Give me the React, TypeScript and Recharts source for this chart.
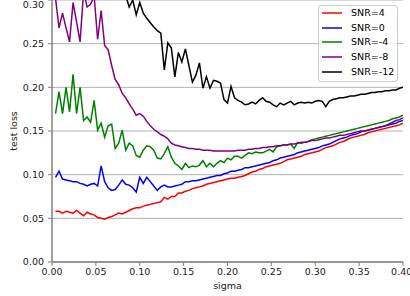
import React from 'react';
import { LineChart, Line, XAxis, YAxis, CartesianGrid, Legend } from 'recharts';

const sigma = [
  0.004, 0.008, 0.012, 0.016, 0.02, 0.024, 0.028, 0.032, 0.036, 0.04,
  0.044, 0.048, 0.052, 0.056, 0.06, 0.064, 0.068, 0.072, 0.076, 0.08,
  0.084, 0.088, 0.092, 0.096, 0.1, 0.104, 0.108, 0.112, 0.116, 0.12,
  0.124, 0.128, 0.132, 0.136, 0.14, 0.144, 0.148, 0.152, 0.156, 0.16,
  0.164, 0.168, 0.172, 0.176, 0.18, 0.184, 0.188, 0.192, 0.196, 0.2,
  0.204, 0.208, 0.212, 0.216, 0.22, 0.224, 0.228, 0.232, 0.236, 0.24,
  0.244, 0.248, 0.252, 0.256, 0.26, 0.264, 0.268, 0.272, 0.276, 0.28,
  0.284, 0.288, 0.292, 0.296, 0.3, 0.304, 0.308, 0.312, 0.316, 0.32,
  0.324, 0.328, 0.332, 0.336, 0.34, 0.344, 0.348, 0.352, 0.356, 0.36,
  0.364, 0.368, 0.372, 0.376, 0.38, 0.384, 0.388, 0.392, 0.396, 0.4,
];

const snr4 = [
  0.058, 0.058, 0.056, 0.058, 0.057, 0.056, 0.059, 0.056, 0.053, 0.057,
  0.055, 0.054, 0.051, 0.050, 0.049, 0.051, 0.052, 0.054, 0.056, 0.055,
  0.057, 0.059, 0.061, 0.062, 0.062, 0.064, 0.065, 0.066, 0.067, 0.068,
  0.069, 0.074, 0.072, 0.075, 0.075, 0.079, 0.079, 0.081, 0.082, 0.084,
  0.085, 0.086, 0.087, 0.089, 0.090, 0.091, 0.092, 0.093, 0.094, 0.095,
  0.096, 0.096, 0.097, 0.098, 0.099, 0.101, 0.103, 0.104, 0.106, 0.107,
  0.109, 0.110, 0.111, 0.112, 0.113, 0.115, 0.117, 0.118, 0.119, 0.120,
  0.121, 0.123, 0.124, 0.125, 0.126, 0.127, 0.129, 0.131, 0.132, 0.133,
  0.135, 0.137, 0.138, 0.140, 0.142, 0.143, 0.144, 0.145, 0.146, 0.148,
  0.149, 0.150, 0.151, 0.152, 0.153, 0.154, 0.155, 0.156, 0.157, 0.159,
];

const snr0 = [
  0.097, 0.104, 0.095, 0.094, 0.093, 0.092, 0.092, 0.090, 0.089, 0.087,
  0.089, 0.090, 0.087, 0.110, 0.092, 0.085, 0.082, 0.083, 0.088, 0.094,
  0.089, 0.088, 0.085, 0.080, 0.097, 0.090, 0.097, 0.092, 0.087, 0.082,
  0.086, 0.088, 0.086, 0.086, 0.087, 0.088, 0.089, 0.092, 0.092, 0.093,
  0.093, 0.094, 0.095, 0.096, 0.097, 0.098, 0.099, 0.099, 0.101, 0.102,
  0.104, 0.104, 0.105, 0.106, 0.108, 0.108, 0.109, 0.110, 0.111, 0.112,
  0.113, 0.114, 0.116, 0.117, 0.119, 0.120, 0.121, 0.122, 0.123, 0.125,
  0.126, 0.127, 0.128, 0.129, 0.130, 0.131, 0.133, 0.134, 0.135, 0.137,
  0.139, 0.141, 0.142, 0.143, 0.145, 0.146, 0.147, 0.149, 0.150, 0.151,
  0.152, 0.153, 0.154, 0.155, 0.156, 0.157, 0.158, 0.159, 0.161, 0.162,
];

const snrM4 = [
  0.170, 0.195, 0.170, 0.200, 0.172, 0.215, 0.170, 0.200, 0.162, 0.166,
  0.160, 0.185, 0.151, 0.159, 0.143, 0.156, 0.158, 0.130, 0.136, 0.151,
  0.128, 0.136, 0.133, 0.122, 0.120, 0.128, 0.133, 0.132, 0.128, 0.119,
  0.118, 0.124, 0.132, 0.120, 0.113, 0.110, 0.106, 0.113, 0.108, 0.110,
  0.109, 0.111, 0.116, 0.109, 0.113, 0.109, 0.113, 0.116, 0.114, 0.119,
  0.117, 0.121, 0.121, 0.119, 0.122, 0.125, 0.124, 0.126, 0.125, 0.125,
  0.127, 0.129, 0.126, 0.132, 0.133, 0.134, 0.134, 0.135, 0.130, 0.137,
  0.136, 0.137, 0.138, 0.140, 0.141, 0.142, 0.143, 0.144, 0.145, 0.146,
  0.147, 0.148, 0.149, 0.150, 0.151, 0.152, 0.153, 0.154, 0.155, 0.156,
  0.157, 0.158, 0.159, 0.160, 0.161, 0.162, 0.164, 0.165, 0.166, 0.168,
];

const snrM8 = [
  0.302, 0.268, 0.285, 0.268, 0.252, 0.297, 0.275, 0.252, 0.310, 0.292,
  0.295, 0.305, 0.255, 0.288, 0.248, 0.243, 0.225, 0.209, 0.203, 0.193,
  0.188, 0.181, 0.175, 0.168, 0.170, 0.167, 0.161, 0.156, 0.152, 0.149,
  0.146, 0.144, 0.141, 0.136, 0.134, 0.133, 0.132, 0.131, 0.130, 0.130,
  0.129, 0.129, 0.128, 0.128, 0.128, 0.127, 0.127, 0.127, 0.127, 0.127,
  0.127, 0.127, 0.128, 0.128, 0.128, 0.129, 0.129, 0.130, 0.130, 0.131,
  0.131, 0.132, 0.132, 0.133, 0.133, 0.134, 0.134, 0.135, 0.135, 0.136,
  0.137, 0.137, 0.138, 0.139, 0.139, 0.140, 0.141, 0.142, 0.142, 0.143,
  0.144, 0.145, 0.145, 0.146, 0.147, 0.148, 0.149, 0.150, 0.150, 0.151,
  0.152, 0.153, 0.154, 0.155, 0.156, 0.158, 0.160, 0.162, 0.163, 0.165,
];

const snrM12 = [
  0.360, 0.350, 0.370, 0.340, 0.360, 0.350, 0.340, 0.360, 0.330, 0.350,
  0.340, 0.330, 0.350, 0.330, 0.320, 0.340, 0.320, 0.330, 0.310, 0.320,
  0.305, 0.292, 0.300, 0.283, 0.297, 0.285, 0.279, 0.274, 0.269, 0.265,
  0.262, 0.220, 0.251, 0.245, 0.212, 0.240, 0.229, 0.244, 0.225, 0.206,
  0.214, 0.228, 0.199, 0.212, 0.199, 0.208, 0.207, 0.205, 0.186, 0.182,
  0.201, 0.188, 0.185, 0.183, 0.180, 0.181, 0.183, 0.181, 0.185, 0.188,
  0.184, 0.183, 0.180, 0.178, 0.182, 0.180, 0.182, 0.184, 0.180, 0.182,
  0.183, 0.182, 0.183, 0.182, 0.184, 0.185, 0.184, 0.178, 0.184, 0.186,
  0.187, 0.188, 0.188, 0.189, 0.190, 0.190, 0.191, 0.192, 0.192, 0.193,
  0.194, 0.194, 0.195, 0.195, 0.196, 0.196, 0.197, 0.197, 0.199, 0.200,
];

const xTicks = [0, 0.05, 0.1, 0.15, 0.2, 0.25, 0.3, 0.35, 0.4];
const yTicks = [0, 0.05, 0.1, 0.15, 0.2, 0.25, 0.3];

const SERIES = [
  { key: 'snr4', name: 'SNR=4', color: '#ff0000', values: snr4 },
  { key: 'snr0', name: 'SNR=0', color: '#0000ff', values: snr0 },
  { key: 'snrM4', name: 'SNR=-4', color: '#008000', values: snrM4 },
  { key: 'snrM8', name: 'SNR=-8', color: '#800080', values: snrM8 },
  { key: 'snrM12', name: 'SNR=-12', color: '#000000', values: snrM12 },
];

const data = sigma.map((s, i) => {
  const row: Record<string, number> = { sigma: s };
  SERIES.forEach((ser) => {
    row[ser.key] = ser.values[i];
  });
  return row;
});

const FONT = 'DejaVu Sans';
const FS = 9.5;

const renderLegend = () => (
  <div
    style={{
      width: 80,
      height: 77,
      boxSizing: 'border-box',
      border: '1px solid #cccccc',
      borderRadius: 3,
      background: 'rgba(255,255,255,0.85)',
      fontFamily: FONT,
      fontSize: FS,
      position: 'relative',
    }}
  >
    {SERIES.map((s, k) => (
      <div
        key={s.key}
        style={{
          position: 'absolute',
          left: 3,
          top: 1 + k * 14.7,
          height: 12,
          display: 'flex',
          alignItems: 'center',
          whiteSpace: 'nowrap',
        }}
      >
        <svg width={21} height={12} style={{ display: 'block' }}>
          <line x1={0} x2={20} y1={6} y2={6} stroke={s.color} strokeWidth={1.5} />
        </svg>
        <span style={{ marginLeft: 8, lineHeight: '12px', color: '#000' }}>{s.name}</span>
      </div>
    ))}
  </div>
);

const YLabel = (props: any) => {
  const vb = props.viewBox || { x: 0, y: 0, width: 52, height: 262 };
  const cx = vb.x + 13;
  const cy = vb.y + vb.height / 2;
  return (
    <text
      x={cx}
      y={cy}
      transform={`rotate(-90, ${cx}, ${cy})`}
      textAnchor="middle"
      dominantBaseline="central"
      fontFamily={FONT}
      fontSize={FS}
      fill="#222"
    >
      test loss
    </text>
  );
};

const XLabel = (props: any) => {
  const vb = props.viewBox || { x: 52, y: 262, width: 351, height: 34 };
  return (
    <text
      x={vb.x + vb.width / 2}
      y={vb.y + 26.5}
      textAnchor="middle"
      fontFamily={FONT}
      fontSize={FS}
      fill="#222"
    >
      sigma
    </text>
  );
};

export default function App() {
  return (
    <div style={{ position: 'absolute', left: 0, top: 0, width: 410, height: 296, background: '#fff' }}>
      <LineChart width={410} height={296} data={data} margin={{ top: 0, right: 7, left: 0, bottom: 0 }}>
        <CartesianGrid vertical={false} stroke="#b0b0b0" strokeWidth={1} />
        <XAxis
          dataKey="sigma"
          type="number"
          domain={[0, 0.4]}
          ticks={xTicks}
          tickFormatter={(v: number) => v.toFixed(2)}
          height={34}
          tickSize={4}
          tickMargin={2}
          axisLine={{ stroke: '#808080', strokeWidth: 1.5 }}
          tickLine={{ stroke: '#808080', strokeWidth: 1 }}
          tick={{ fontFamily: FONT, fontSize: FS, fill: '#222' }}
          allowDataOverflow
          label={<XLabel />}
        />
        <XAxis
          xAxisId="top"
          orientation="top"
          dataKey="sigma"
          type="number"
          domain={[0, 0.4]}
          height={0}
          tick={false}
          tickLine={false}
          axisLine={{ stroke: '#222', strokeWidth: 1.5 }}
        />
        <YAxis
          type="number"
          domain={[0, 0.3]}
          ticks={yTicks}
          tickFormatter={(v: number) => v.toFixed(2)}
          width={52}
          tickSize={4}
          tickMargin={4}
          axisLine={{ stroke: '#808080', strokeWidth: 1.5 }}
          tickLine={{ stroke: '#808080', strokeWidth: 1 }}
          tick={{ fontFamily: FONT, fontSize: FS, fill: '#222' }}
          allowDataOverflow
          label={<YLabel />}
        />
        <YAxis
          yAxisId="right"
          orientation="right"
          type="number"
          domain={[0, 0.3]}
          width={0}
          tick={false}
          tickLine={false}
          axisLine={{ stroke: '#999', strokeWidth: 1 }}
        />
        {SERIES.map((s) => (
          <Line
            key={s.key}
            dataKey={s.key}
            name={s.name}
            stroke={s.color}
            strokeWidth={1.5}
            dot={false}
            activeDot={false}
            type="linear"
            isAnimationActive={false}
          />
        ))}
        <Legend
          layout="vertical"
          align="center"
          verticalAlign="middle"
          content={renderLegend}
          wrapperStyle={{ left: 318, top: 5, width: 80, height: 77 }}
        />
      </LineChart>
    </div>
  );
}
